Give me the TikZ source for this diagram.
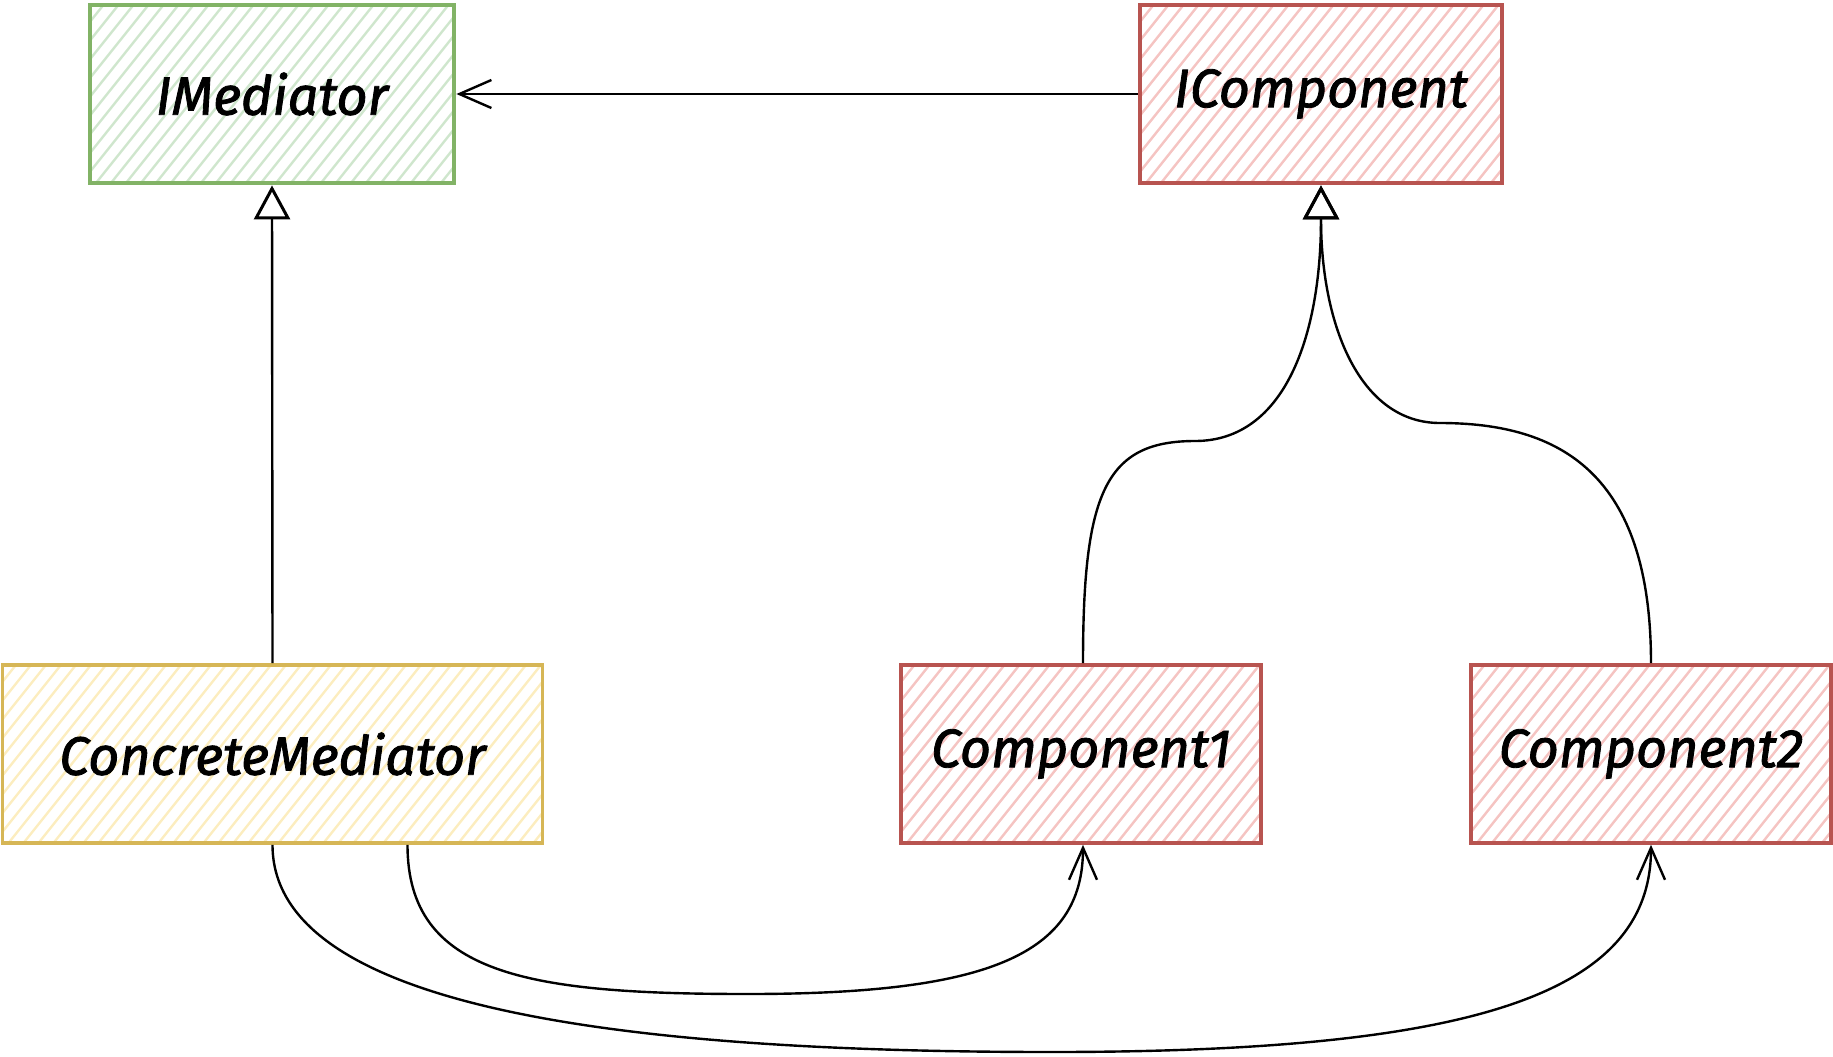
\documentclass[tikz,border=0pt]{standalone}
\usepackage{fontspec}
\setmainfont{Fira Sans}[ItalicFeatures={FakeBold=1.6}]
\usetikzlibrary{arrows.meta,calc}
\definecolor{gstroke}{HTML}{82B366}
\definecolor{gfill}{HTML}{CFE6CD}
\definecolor{rstroke}{HTML}{B85450}
\definecolor{rfill}{HTML}{F5C4C2}
\definecolor{ystroke}{HTML}{D6B656}
\definecolor{yfill}{HTML}{FCEDBF}
\tikzset{
  hatch/.style={path picture={\foreach \k in {0,...,56}{\draw[draw=#1,line width=1.2pt] ($(path picture bounding box.south west)+(\k*15-250,20)$) -- ++(240,-300);}}},
  boxbase/.style={line width=1.8pt, minimum height=89pt, inner sep=0pt, font=\fontsize{27}{32}\selectfont\itshape},
  gbox/.style={boxbase, line width=2.4pt, draw=gstroke, hatch=gfill},
  rbox/.style={boxbase, draw=rstroke, hatch=rfill},
  ybox/.style={boxbase, draw=ystroke, hatch=yfill},
  conn/.style={line width=1.2pt, black},
  openarr/.style={conn, -{Straight Barb[length=16pt,width=14pt,line width=1.2pt]}},
  inharr/.style={conn, -{Triangle[open,length=17pt,width=18pt,line width=1.5pt]}}
}
\begin{document}
\begin{tikzpicture}[x=0.5pt,y=-0.5pt]
\path[use as bounding box] (0,0) rectangle (1833,1056);
\node[gbox, minimum width=182pt] (im) at (272,94) {IMediator};
\node[rbox, line width=2.4pt, minimum width=181pt] (ic) at (1321,94) {IComponent};
\node[ybox, minimum width=270pt] (cm) at (272.5,754) {ConcreteMediator};
\node[rbox, minimum width=180pt] (c1) at (1081,754) {Component1};
\node[rbox, minimum width=180pt] (c2) at (1651,754) {Component2};
\coordinate (j1) at (1195,441);
\coordinate (j2) at (1440,423);
\coordinate (b1) at (748,994);
\coordinate (b2) at (1052,1052);
% association IComponent -> IMediator
\draw[openarr] (ic.west) -- (im.east);
% inheritance
\draw[inharr] (cm.north) -- (im.south);
\draw[inharr] ([xshift=1pt]c1.north) .. controls +(0,-170) and +(-90,0) .. (j1) .. controls +(90,0) and +(0,150) .. (ic.south);
\draw[inharr] ([xshift=0pt]c2.north) .. controls +(0,-190) and +(120,0) .. (j2) .. controls +(-80,0) and +(0,140) .. (ic.south);
% usage
\draw[openarr] ([xshift=67.5pt]cm.south) .. controls +(0,130) and +(-220,0) .. (b1) .. controls +(240,0) and +(0,110) .. ([xshift=1pt]c1.south);
\draw[openarr] (cm.south) .. controls +(0,170) and +(-400,0) .. (b2) .. controls +(420,0) and +(0,150) .. ([xshift=0pt]c2.south);
\end{tikzpicture}
\end{document}
